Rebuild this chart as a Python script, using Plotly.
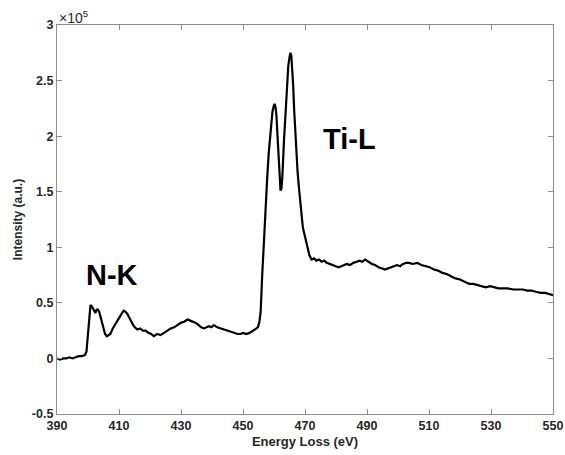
import plotly.graph_objects as go

# Energy loss (eV)
energy = [390, 391, 392, 393, 394, 395, 396, 397, 398, 399, 399.5, 400, 400.4, 400.8, 401.2, 401.6,
          402.0, 402.4, 402.8, 403.2, 403.6, 404.0, 404.5, 405.0, 405.5, 406.1, 406.6, 407.2, 408.0,
          408.8, 409.6, 410.4, 411.0, 411.5, 412.1, 412.7, 413.3, 414.0, 414.8, 415.9, 416.8, 417.7,
          418.6, 419.5, 420.4, 421.2, 422.3, 423.4, 424.5, 425.6, 426.7, 427.8, 428.9, 429.9, 431.0,
          432.1, 433.0, 433.9, 434.8, 435.7, 436.5, 437.4, 438.2, 439.0, 439.8, 440.6, 441.7, 442.9,
          444.0, 445.0, 446.1, 447.2, 448.3, 449.2, 450.1, 451.0, 452.1, 453.3, 454.2, 454.8, 455.3,
          455.7, 456.2, 456.6, 456.9, 457.3, 457.8, 458.3, 458.8, 459.2, 459.5, 459.9, 460.2, 460.5,
          460.8, 461.1, 461.4, 461.8, 462.1, 462.4, 462.7, 463.2, 463.7, 464.1, 464.6, 465.0, 465.3,
          465.6, 465.9, 466.2, 466.5, 466.8, 467.2, 467.6, 468.1, 468.5, 468.9, 469.3, 469.8, 470.3,
          470.8, 471.4, 472.1, 472.9, 473.7, 474.5, 475.4, 476.2, 477.0, 478.0, 479.0, 480.0, 480.8,
          481.7, 482.6, 483.5, 484.5, 485.6, 486.7, 487.6, 488.5, 489.4, 490.5, 491.6, 492.6, 493.7,
          494.8, 495.8, 496.8, 497.8, 498.8, 499.7, 500.7, 501.6, 502.6, 503.5, 504.8, 506.2, 507.5,
          508.8, 510.2, 511.6, 512.9, 514.3, 515.7, 517.1, 518.5, 520.0, 521.5, 523.0, 524.3, 525.6,
          527.0, 528.3, 529.7, 531.1, 532.4, 533.8, 535.4, 537.1, 538.7, 540.3, 541.7, 543.1, 544.5,
          546.0, 547.5, 549.0, 550.0]

# Intensity (x10^5 a.u.)
intensity = [0.00, -0.01, 0.00, 0.00, 0.01, 0.00, 0.01, 0.02, 0.02, 0.03, 0.06, 0.25, 0.42, 0.48, 0.47,
             0.45, 0.42, 0.41, 0.44, 0.44, 0.42, 0.38, 0.32, 0.26, 0.22, 0.20, 0.21, 0.22, 0.27,
             0.31, 0.34, 0.38, 0.41, 0.43, 0.42, 0.40, 0.36, 0.33, 0.29, 0.26, 0.27, 0.25,
             0.25, 0.23, 0.22, 0.20, 0.22, 0.21, 0.23, 0.25, 0.27, 0.28, 0.30, 0.32, 0.33,
             0.35, 0.34, 0.33, 0.32, 0.30, 0.28, 0.27, 0.28, 0.29, 0.28, 0.30, 0.28, 0.27,
             0.26, 0.25, 0.24, 0.23, 0.22, 0.22, 0.23, 0.22, 0.23, 0.25, 0.27, 0.28, 0.33,
             0.42, 0.75, 1.00, 1.18, 1.40, 1.62, 1.85, 2.02, 2.15, 2.22, 2.27, 2.29, 2.26,
             2.18, 2.02, 1.82, 1.62, 1.51, 1.53, 1.64, 1.95, 2.22, 2.45, 2.63, 2.71, 2.75,
             2.72, 2.62, 2.45, 2.24, 2.05, 1.85, 1.68, 1.52, 1.40, 1.28, 1.18, 1.12, 1.05,
             0.98, 0.93, 0.89, 0.90, 0.88, 0.89, 0.87, 0.88, 0.86, 0.85, 0.84, 0.83, 0.82,
             0.83, 0.84, 0.85, 0.84, 0.86, 0.87, 0.88, 0.87, 0.89, 0.87, 0.85, 0.84, 0.82,
             0.81, 0.80, 0.81, 0.82, 0.83, 0.84, 0.83, 0.85, 0.86, 0.86, 0.85, 0.86, 0.84,
             0.83, 0.82, 0.80, 0.79, 0.77, 0.76, 0.74, 0.72, 0.71, 0.69, 0.67, 0.67, 0.66,
             0.65, 0.64, 0.65, 0.64, 0.63, 0.63, 0.63, 0.62, 0.62, 0.62, 0.61, 0.61, 0.60,
             0.59, 0.59, 0.58, 0.57]

x_ticks = [390, 410, 430, 450, 470, 490, 510, 530, 550]
y_ticks = [-0.5, 0, 0.5, 1, 1.5, 2, 2.5, 3]
y_tick_labels = ["-0.5", "0", "0.5", "1", "1.5", "2", "2.5", "3"]

font = "Liberation Sans, Arial, sans-serif"
axis_color = "#8c8c8c"
text_color = "#262626"

fig = go.Figure()
fig.add_trace(go.Scatter(x=energy, y=intensity, mode="lines",
                         line=dict(color="black", width=2.2), showlegend=False))

fig.update_layout(
    width=565, height=455,
    margin=dict(l=57, r=12, t=25, b=41),
    paper_bgcolor="white", plot_bgcolor="white",
    font=dict(family=font, color=text_color),
)
fig.update_xaxes(
    range=[390, 550], tickvals=x_ticks, ticks="inside", ticklen=5, tickcolor=axis_color,
    showline=True, linecolor=axis_color, linewidth=1.2, mirror="ticks", showgrid=False,
    zeroline=False, automargin=False, ticklabeloverflow="allow",
    tickfont=dict(size=12.5, family=font, color=text_color, weight="bold"),
    title=dict(text="<b>Energy Loss (eV)</b>", font=dict(size=13, color=text_color), standoff=4),
)
fig.update_yaxes(
    range=[-0.5, 3], tickvals=y_ticks, ticktext=y_tick_labels, ticks="inside", ticklen=5,
    tickcolor=axis_color, showline=True, linecolor=axis_color, linewidth=1.2, mirror="ticks",
    showgrid=False, zeroline=False, automargin=False,
    tickfont=dict(size=12.5, family=font, color=text_color, weight="bold"),
    title=dict(text="<b>Intensity (a.u.)</b>", font=dict(size=12, color=text_color), standoff=6),
)

fig.add_annotation(xref="paper", yref="paper", x=0, y=1, xanchor="left", yanchor="bottom",
                   text="\u00d710<sup>5</sup>", showarrow=False,
                   font=dict(size=14, family=font, color=text_color), yshift=-3)
fig.add_annotation(x=398.8, y=0.75, text="<b>N-K</b>", showarrow=False,
                   xanchor="left", font=dict(size=29, family=font, color="black"))
fig.add_annotation(x=475.3, y=1.97, text="<b>Ti-L</b>", showarrow=False,
                   xanchor="left", font=dict(size=29, family=font, color="black"))

# remove the browser's default body margin so the figure sits at the page origin
fig.write_html("out.html", config={"displayModeBar": False},
               post_script="document.body.style.margin='0';")
